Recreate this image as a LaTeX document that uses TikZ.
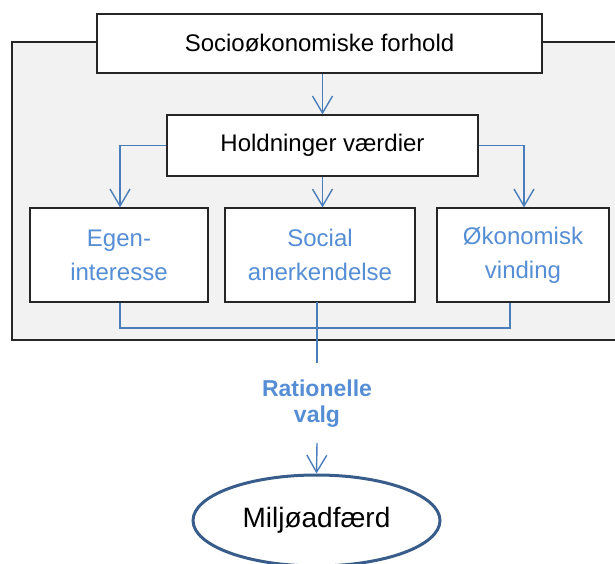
\documentclass[tikz,border=0pt]{standalone}
\usepackage{fontspec}
\setmainfont{Liberation Sans}
\usetikzlibrary{arrows.meta,shapes.geometric}
\definecolor{linkblue}{HTML}{4A7EBB}
\definecolor{labelblue}{HTML}{558ED5}
\definecolor{ovalblue}{HTML}{385D8A}
\definecolor{panelgray}{HTML}{F2F2F2}

\begin{document}
\begin{tikzpicture}[x=1pt,y=-1pt,
  box/.style={draw=black!85,line width=1.2pt,fill=white,inner sep=0pt,
    align=center,font=\fontsize{24}{34}\selectfont},
  topbox/.style={box,minimum width=445pt,minimum height=59pt},
  midbox/.style={box,minimum width=311pt,minimum height=61pt},
  factor/.style={box,text=labelblue,minimum height=94pt},
  link/.style={draw=linkblue,line width=1.4pt},
  arr/.style={link,-{Straight Barb[length=17pt,width=20pt]}},
  panel/.style={draw=black!85,line width=2pt,fill=panelgray}
]
\clip (0,0) rectangle (615,564);

% shaded panel behind the upper part
\path[panel] (12,42) rectangle (625,340);

% boxes
\node[topbox] (socio) at (319.5,43.5) {Socioøkonomiske forhold};
\node[midbox] (hold) at (322.5,145.5) {Holdninger værdier};
\node[factor,minimum width=178pt] (egen) at (119,255) {Egen-\\interesse};
\node[factor,minimum width=190pt] (social) at (320,255) {Social\\anerkendelse};
\node[factor,minimum width=172pt] (okon) at (523,255) {Økonomisk\\vinding};

% rational choice label and the outcome
\node[text=labelblue,font=\fontsize{23}{26}\selectfont\bfseries,align=center,inner sep=0pt]
  (valg) at (317,404) {Rationelle\\valg};
\node[ellipse,draw=ovalblue,line width=3pt,fill=white,minimum width=247pt,
  minimum height=91pt,inner sep=0pt,font=\fontsize{28}{32}\selectfont]
  (miljo) at (316.5,520.5) {Miljøadfærd};

% connectors
\draw[arr] (socio.south -| hold) -- (hold.north);
\draw[arr] (hold.west) -| ([xshift=1pt]egen.north);
\draw[arr] (hold.south) -- (hold.south |- social.north);
\draw[arr] (hold.east) -| ([xshift=1pt]okon.north);

\coordinate (joinL) at (120,328);
\coordinate (joinR) at (510,328);
\coordinate (stemtop) at (317,302);
\coordinate (stemend) at (317,363);
\coordinate (arrtop) at (317,443);
\draw[link] (egen.south -| joinL) -- (joinL) -- (joinR) -- (okon.south -| joinR);
\draw[link] (stemtop) -- (stemend);
\draw[arr] (arrtop) -- (miljo.north);
\end{tikzpicture}
\end{document}
